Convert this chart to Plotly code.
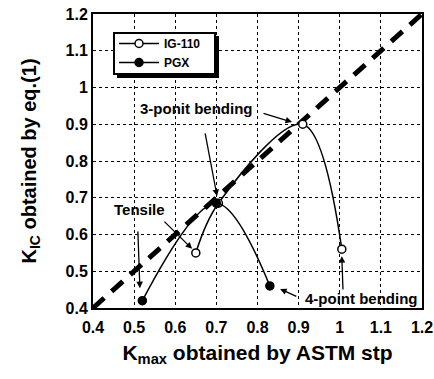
import plotly.graph_objects as go

# Data
ig_x = [0.65, 0.705, 0.91, 1.005]
ig_y = [0.55, 0.685, 0.90, 0.56]
pgx_x = [0.52, 0.70, 0.83]
pgx_y = [0.42, 0.685, 0.46]
diag = [0.4, 1.2]
ticks = [0.4, 0.5, 0.6, 0.7, 0.8, 0.9, 1.0, 1.1, 1.2]

FONT = "Liberation Sans, Arial, sans-serif"
L, R, T, B, W, H = 93, 12, 14, 71, 434, 379
PW, PH = W - L - R, H - T - B

def px(x):
    return (x - L) / PW

def py(y):
    return 1 - (y - T) / PH

fig = go.Figure()
fig.add_trace(go.Scatter(x=diag, y=diag, mode="lines", showlegend=False,
                         line=dict(color="black", width=5, dash="15px,10px")))
fig.add_trace(go.Scatter(x=ig_x, y=ig_y, mode="lines+markers", name="IG-110",
                         line=dict(color="black", width=1.5, shape="spline", smoothing=1.0),
                         marker=dict(symbol="circle", size=8, color="white",
                                     line=dict(color="black", width=1.5))))
fig.add_trace(go.Scatter(x=pgx_x, y=pgx_y, mode="lines+markers", name="PGX",
                         line=dict(color="black", width=1.5, shape="spline", smoothing=1.0),
                         marker=dict(symbol="circle", size=8, color="black",
                                     line=dict(color="black", width=1.5))))

axis_common = dict(range=[0.4, 1.2], tickvals=ticks, showgrid=True, gridcolor="black",
                   griddash="dot", gridwidth=1.3, showline=True, linecolor="black",
                   linewidth=2, mirror=True, zeroline=False, ticks="", automargin=False,
                   tickfont=dict(family=FONT, size=16, color="black", weight="bold"))

fig.update_xaxes(**axis_common, ticklabelstandoff=4,
                 title=dict(text="K<sub>max</sub> obtained by ASTM stp", standoff=10,
                            font=dict(family=FONT, size=21, color="black", weight="bold")))
fig.update_yaxes(**axis_common,
                 title=dict(text="K<sub>IC</sub> obtained by eq.(1)", standoff=24,
                            font=dict(family=FONT, size=20, color="black", weight="bold")))

def arrow(tx, ty, hx, hy):
    return dict(x=hx, y=hy, ax=tx, ay=ty, xref="x", yref="y", axref="x", ayref="y",
                showarrow=True, arrowhead=2, arrowsize=1, arrowwidth=1.3,
                arrowcolor="black", text="")

anns = [
    arrow(0.811, 0.931, 0.884, 0.906),
    arrow(0.672, 0.879, 0.7015, 0.705),
    arrow(0.570, 0.639, 0.641, 0.561),
    arrow(0.509, 0.612, 0.514, 0.454),
    arrow(0.898, 0.430, 0.855, 0.452),
    arrow(1.008, 0.446, 1.005, 0.541),
]
lab_font = dict(family=FONT, size=15, color="black", weight="bold")
anns += [
    dict(x=0.650, y=0.944, xref="x", yref="y", text="3-ponit bending", showarrow=False, font=lab_font),
    dict(x=0.514, y=0.667, xref="x", yref="y", text="Tensile", showarrow=False, font=lab_font),
    dict(x=1.052, y=0.427, xref="x", yref="y", text="4-point bending", showarrow=False, font=lab_font),
]

# legend box with drop shadow
shapes = [
    dict(type="rect", xref="paper", yref="paper", layer="above",
         x0=px(117), x1=px(219), y0=py(78), y1=py(36),
         fillcolor="black", line=dict(width=0)),
    dict(type="rect", xref="paper", yref="paper", layer="above",
         x0=px(114), x1=px(215), y0=py(74), y1=py(33),
         fillcolor="white", line=dict(color="black", width=2)),
]

fig.update_layout(
    width=W, height=H,
    margin=dict(l=L, r=R, t=T, b=B),
    plot_bgcolor="white", paper_bgcolor="white",
    annotations=anns, shapes=shapes,
    legend=dict(x=px(114), y=py(29), xanchor="left", yanchor="top",
                bgcolor="rgba(0,0,0,0)", borderwidth=0,
                font=dict(family=FONT, size=12, color="black", weight="bold"),
                itemwidth=40, tracegroupgap=0),
)

fig.write_html("out.html", config={"displayModeBar": False},
               post_script="document.body.style.margin='0px';")
